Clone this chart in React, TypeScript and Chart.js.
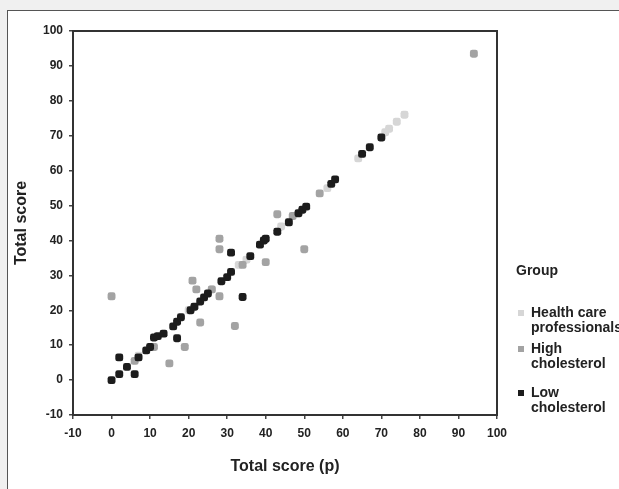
import React, { useEffect, useRef } from 'react';
import { Chart, registerables } from 'chart.js';

Chart.register(...registerables);

const hcpX = [76, 74, 72, 71, 64, 56, 44, 35, 33, 26, 20, 7];
const hcpY = [76, 74, 72, 71, 63.5, 55, 44, 34.5, 33, 26, 20, 7];

const highX = [0, 94, 28, 28, 21, 22, 26, 28, 23, 32, 19, 15, 11, 6, 40, 50, 43, 54, 47, 34];
const highY = [24, 93.5, 40.5, 37.5, 28.5, 26, 26, 24, 16.5, 15.5, 9.5, 4.8, 9.5, 5.5, 33.8, 37.5, 47.5, 53.5, 47, 33];

const lowX = [0, 2, 6, 4, 2, 7, 9, 10, 11, 12, 13.5, 17, 16, 17, 18, 20.5, 21.5, 23, 24, 25, 34, 28.5, 30, 31, 31, 36, 38.5, 39.5, 40, 43, 46, 48.5, 49.5, 50.5, 57, 58, 65, 67, 70];
const lowY = [0, 1.7, 1.7, 3.8, 6.5, 6.5, 8.5, 9.5, 12.2, 12.6, 13.3, 12, 15.4, 16.7, 18, 20, 21, 22.5, 23.7, 24.8, 23.8, 28.3, 29.5, 31, 36.5, 35.5, 38.8, 40, 40.5, 42.5, 45.2, 47.8, 48.8, 49.7, 56.2, 57.5, 64.8, 66.7, 69.5];

const groupNames = [['Health care', 'professionals'], ['High', 'cholesterol'], ['Low', 'cholesterol']];
const groupColors = ['#d6d6d6', '#a3a3a3', '#1c1c1c'];
const legendTitle = 'Group';
const xTitle = 'Total score (p)';
const yTitle = 'Total score';

const FONT = "'Liberation Sans', Arial, sans-serif";

const pts = (xs: number[], ys: number[]) => xs.map((x, i) => ({ x, y: ys[i] }));

export default function App() {
  const ref = useRef<HTMLCanvasElement | null>(null);
  useEffect(() => {
    if (!ref.current) return;
    const framePlugin = {
      id: 'frame',
      beforeDatasetsDraw(chart: any) {
        const { ctx, chartArea: a } = chart;
        ctx.save();
        ctx.strokeStyle = '#333';
        ctx.lineWidth = 2;
        ctx.strokeRect(a.left, a.top, a.right - a.left, a.bottom - a.top);
        ctx.restore();
      },
    };
    const legendPlugin = {
      id: 'customLegend',
      afterDraw(chart: any) {
        const { ctx } = chart;
        ctx.save();
        ctx.textBaseline = 'middle';
        ctx.textAlign = 'left';
        ctx.fillStyle = '#222';
        ctx.font = `bold 14px ${FONT}`;
        ctx.fillText(legendTitle, 516, 271);
        const ys = [313, 349, 393];
        groupNames.forEach((lines, i) => {
          const y0 = ys[i];
          ctx.fillStyle = groupColors[i];
          ctx.fillRect(518, y0 - 3, 6, 6);
          ctx.fillStyle = '#222';
          lines.forEach((l, j) => ctx.fillText(l, 531, y0 + j * 15));
        });
        ctx.restore();
      },
    };
    const tickFont = { family: FONT, size: 12, weight: 'bold' as const };
    const titleFont = { family: FONT, size: 16, weight: 'bold' as const };
    const chart = new Chart(ref.current, {
      type: 'scatter',
      data: {
        datasets: [
          { label: groupNames[0].join(' '), data: pts(hcpX, hcpY), backgroundColor: groupColors[0], borderColor: groupColors[0], order: 2 },
          { label: groupNames[1].join(' '), data: pts(highX, highY), backgroundColor: groupColors[1], borderColor: groupColors[1], order: 1 },
          { label: groupNames[2].join(' '), data: pts(lowX, lowY), backgroundColor: groupColors[2], borderColor: groupColors[2], order: 0 },
        ],
      },
      options: {
        animation: false,
        responsive: false,
        maintainAspectRatio: false,
        layout: { padding: { top: 31, right: 122, left: 0, bottom: 0 } },
        elements: { point: { pointStyle: 'rectRounded', radius: 4.6, borderWidth: 0, hoverRadius: 4.6 } },
        plugins: { legend: { display: false }, tooltip: { enabled: false } },
        scales: {
          x: {
            type: 'linear',
            min: -10,
            max: 100,
            afterFit: (s: any) => { s.height = 74; },
            ticks: { stepSize: 10, color: '#222', font: tickFont, padding: 7, maxRotation: 0 },
            grid: { drawOnChartArea: false, drawTicks: true, tickLength: 4, color: '#444', lineWidth: 1.5 },
            border: { display: true, color: '#333', width: 2 },
            title: { display: true, text: xTitle, color: '#222', font: titleFont, padding: { top: 0, bottom: 13 } },
          },
          y: {
            type: 'linear',
            min: -10,
            max: 100,
            afterFit: (s: any) => { s.width = 73; },
            ticks: { stepSize: 10, color: '#222', font: tickFont, padding: 6 },
            grid: { drawOnChartArea: false, drawTicks: true, tickLength: 4, color: '#444', lineWidth: 1.5 },
            border: { display: true, color: '#333', width: 2 },
            title: { display: true, text: yTitle, color: '#222', font: titleFont, padding: { top: 12, bottom: 0 } },
          },
        },
      },
      plugins: [framePlugin, legendPlugin],
    });
    return () => chart.destroy();
  }, []);

  return (
    <div style={{ position: 'fixed', left: 0, top: 0, width: 619, height: 489, background: '#f0f0f0', overflow: 'hidden' }}>
      <div style={{ position: 'absolute', left: 7, top: 10, width: 640, height: 500, background: '#fff', border: '1px solid #555' }} />
      <canvas ref={ref} width={619} height={489} style={{ position: 'absolute', left: 0, top: 0, width: 619, height: 489 }} />
    </div>
  );
}
